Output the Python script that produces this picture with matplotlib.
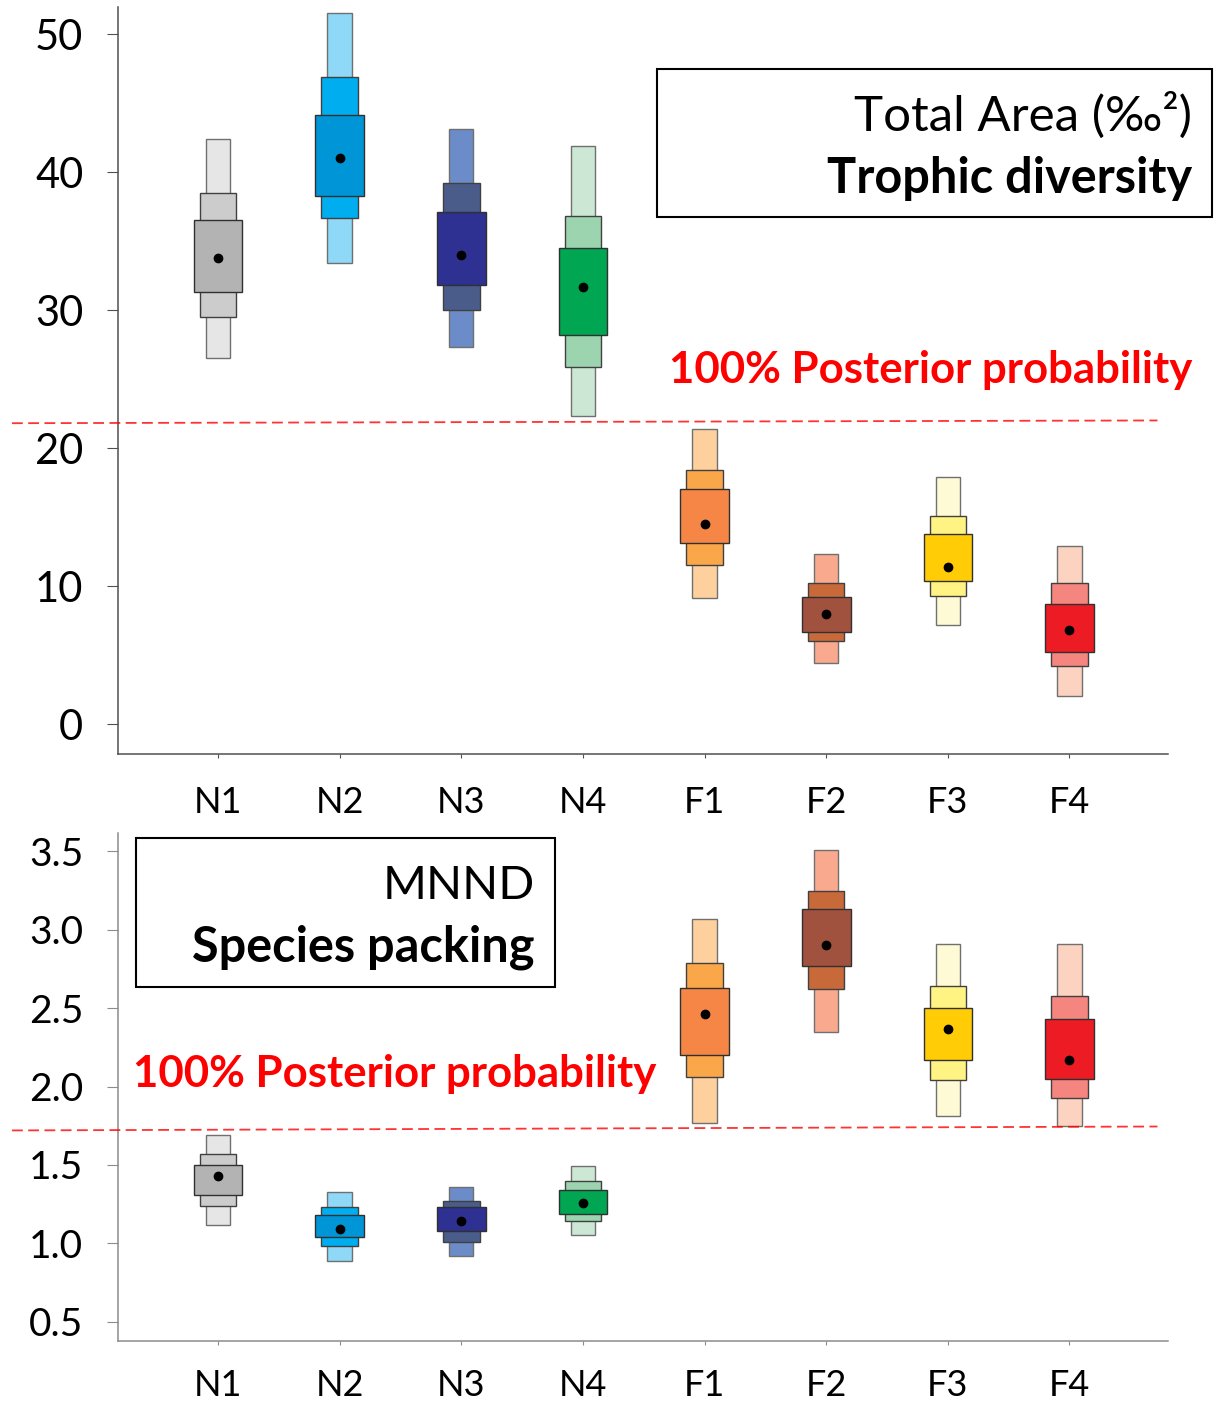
import matplotlib.pyplot as plt
from matplotlib.patches import Rectangle

plt.rcParams['font.family'] = ['Lato', 'DejaVu Sans']

groups = ['N1', 'N2', 'N3', 'N4', 'F1', 'F2', 'F3', 'F4']

# Total Area: mode and 50 / 75 / 95 % credible intervals
ta_mode = [33.8, 41.0, 34.0, 31.7, 14.5, 8.0, 11.4, 6.8]
ta_50_lo = [31.3, 38.3, 31.8, 28.2, 13.1, 6.7, 10.4, 5.2]
ta_50_hi = [36.5, 44.1, 37.1, 34.5, 17.0, 9.2, 13.8, 8.7]
ta_75_lo = [29.5, 36.7, 30.0, 25.9, 11.5, 6.0, 9.3, 4.2]
ta_75_hi = [38.5, 46.9, 39.2, 36.8, 18.4, 10.2, 15.1, 10.2]
ta_95_lo = [26.5, 33.4, 27.3, 22.3, 9.1, 4.4, 7.2, 2.0]
ta_95_hi = [42.4, 51.5, 43.1, 41.9, 21.4, 12.3, 17.9, 12.9]
ta_cut = [21.8, 22.0]

# MNND: mode and 50 / 75 / 95 % credible intervals
mn_mode = [1.43, 1.09, 1.14, 1.26, 2.46, 2.90, 2.37, 2.17]
mn_50_lo = [1.31, 1.04, 1.08, 1.19, 2.20, 2.77, 2.17, 2.05]
mn_50_hi = [1.50, 1.18, 1.23, 1.34, 2.63, 3.13, 2.50, 2.43]
mn_75_lo = [1.24, 0.98, 1.01, 1.14, 2.06, 2.62, 2.04, 1.93]
mn_75_hi = [1.57, 1.23, 1.27, 1.40, 2.79, 3.25, 2.64, 2.58]
mn_95_lo = [1.12, 0.89, 0.92, 1.05, 1.77, 2.35, 1.81, 1.75]
mn_95_hi = [1.69, 1.33, 1.36, 1.49, 3.07, 3.51, 2.91, 2.91]
mn_cut = [1.72, 1.745]

col_95 = ['#e6e6e6', '#8fd8f7', '#6b8cc8', '#cce8d5', '#fdd09e', '#f9a98e', '#fffad6', '#fcd2c0']
col_75 = ['#cccccc', '#00aeef', '#4a5d8a', '#9dd4b0', '#faa74a', '#c8693a', '#fff383', '#f4857f']
col_50 = ['#b3b3b3', '#0095d6', '#2e3192', '#00a651', '#f58645', '#a0523f', '#ffcc05', '#ed1c24']

W, H = 1219, 1403
fig = plt.figure(figsize=(W / 100, H / 100), dpi=100)


def fx(px):
    return px / W


def fy(py):
    return 1 - py / H


xs = list(range(1, len(groups) + 1))


def draw_panel(ax, lo95, hi95, lo75, hi75, lo50, hi50, mode, cut, spine_col, xpad):
    for x, a, b, c in zip(xs, lo95, hi95, col_95):
        ax.bar(x, b - a, bottom=a, width=0.2, color=c, edgecolor='#707070', linewidth=1.0, zorder=2)
    for x, a, b, c in zip(xs, lo75, hi75, col_75):
        ax.bar(x, b - a, bottom=a, width=0.3, color=c, edgecolor='#404040', linewidth=1.0, zorder=3)
    for x, a, b, c in zip(xs, lo50, hi50, col_50):
        ax.bar(x, b - a, bottom=a, width=0.4, color=c, edgecolor='#303030', linewidth=1.0, zorder=4)
    ax.plot(xs, mode, 'o', color='black', ms=6, zorder=5)
    # posterior probability cut line, runs past the axes
    ax.plot([-0.101, 0.990], cut, color='red', alpha=0.8, lw=1.3, dashes=(6, 3),
            transform=ax.get_yaxis_transform(), clip_on=False, zorder=6)
    ax.set_xlim(0.178, 8.81)
    ax.set_xticks(xs)
    ax.set_xticklabels(groups)
    for s in ['top', 'right']:
        ax.spines[s].set_visible(False)
    for s in ['left', 'bottom']:
        ax.spines[s].set_color(spine_col)
        ax.spines[s].set_linewidth(1.1)
    ax.tick_params(axis='x', direction='out', length=3, pad=xpad, labelsize=26, color=spine_col)
    ax.tick_params(axis='y', direction='out', length=8, pad=17, color=spine_col)


# top panel
ax1 = fig.add_axes([fx(118), fy(754), (1168 - 118) / W, (754 - 7) / H])
draw_panel(ax1, ta_95_lo, ta_95_hi, ta_75_lo, ta_75_hi, ta_50_lo, ta_50_hi, ta_mode, ta_cut,
           '#505050', 20)
ax1.set_ylim(-2.17, 51.96)
ax1.set_yticks([0, 10, 20, 30, 40, 50])
ax1.tick_params(axis='y', labelsize=30)

# bottom panel
ax2 = fig.add_axes([fx(118), fy(1341), (1168 - 118) / W, (1341 - 833) / H])
draw_panel(ax2, mn_95_lo, mn_95_hi, mn_75_lo, mn_75_hi, mn_50_lo, mn_50_hi, mn_mode, mn_cut,
           '#8c8c8c', 17)
ax2.set_ylim(0.377, 3.617)
ax2.set_yticks([0.5, 1.0, 1.5, 2.0, 2.5, 3.0, 3.5])
ax2.set_yticklabels(['0.5', '1.0', '1.5', '2.0', '2.5', '3.0', '3.5'])
ax2.tick_params(axis='y', labelsize=28)

# label boxes
fig.add_artist(Rectangle((fx(657), fy(217)), (1212 - 657) / W, (217 - 69) / H,
                         transform=fig.transFigure, fill=False, edgecolor='black', lw=1.5))
fig.text(fx(1192), fy(131), 'Total Area (‰²)', ha='right', va='baseline', fontsize=35.5)
fig.text(fx(1192), fy(193), 'Trophic diversity', ha='right', va='baseline', fontsize=35,
         fontweight='bold')

fig.add_artist(Rectangle((fx(136), fy(987)), (555 - 136) / W, (987 - 838) / H,
                         transform=fig.transFigure, fill=False, edgecolor='black', lw=1.5))
fig.text(fx(535), fy(899), 'MNND', ha='right', va='baseline', fontsize=34)
fig.text(fx(535), fy(962), 'Species packing', ha='right', va='baseline', fontsize=35,
         fontweight='bold')

fig.text(fx(1192), fy(383), '100% Posterior probability', ha='right', va='baseline',
         fontsize=31.5, fontweight='bold', color='#ff0000')
fig.text(fx(133), fy(1087), '100% Posterior probability', ha='left', va='baseline',
         fontsize=31.5, fontweight='bold', color='#ff0000')

fig.savefig('out.png', dpi=100)
